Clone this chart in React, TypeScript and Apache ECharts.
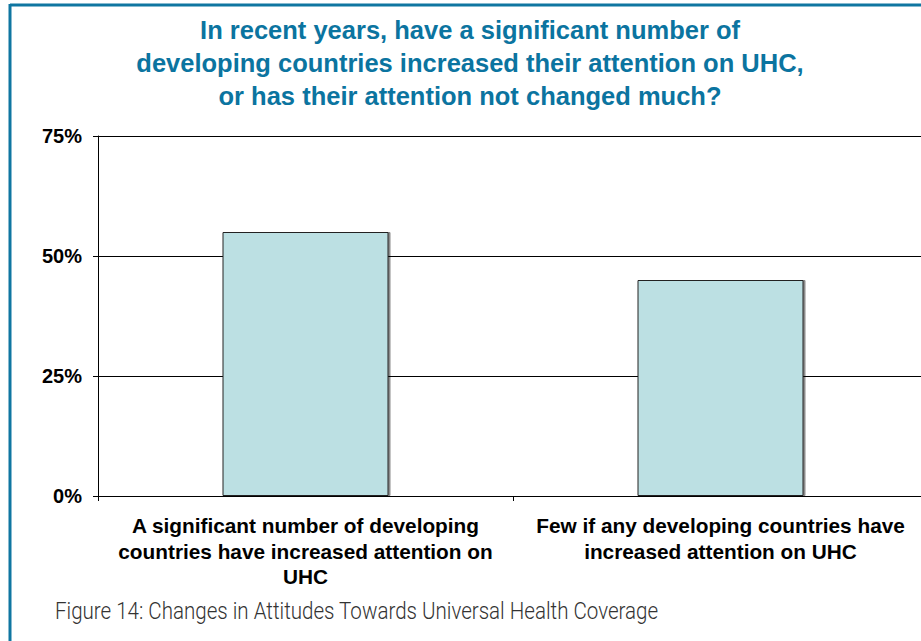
import React, { useEffect, useRef } from "react";
import * as echarts from "echarts";

const categories = [
  "A significant number of developing\ncountries have increased attention on\nUHC",
  "Few if any developing countries have\nincreased attention on UHC",
];
const values = [55, 45];
const yTicks = { min: 0, max: 75, interval: 25 };
const titleLines = [
  "In recent years, have a significant number of",
  "developing countries increased their attention on UHC,",
  "or has their attention not changed much?",
];
const caption = "Figure 14: Changes in Attitudes Towards Universal Health Coverage";

export default function App() {
  const ref = useRef<HTMLDivElement>(null);
  useEffect(() => {
    if (!ref.current) return;
    const chart = echarts.init(ref.current, null, { renderer: "svg" });
    const teal = "#0F76A1";
    chart.setOption({
      animation: false,
      backgroundColor: "#ffffff",
      title: {
        text: titleLines.join("\n"),
        left: 465,
        textAlign: "center",
        top: 8,
        textStyle: {
          color: "#0B74A0",
          fontFamily: "Liberation Sans, Arial, sans-serif",
          fontWeight: "bold",
          fontSize: 25.5,
          lineHeight: 33,
        },
      },
      graphic: [
        { type: "line", shape: { x1: 10, y1: 5, x2: 928, y2: 5 }, style: { stroke: teal, lineWidth: 3 } },
        { type: "line", shape: { x1: 10, y1: 4, x2: 10, y2: 641 }, style: { stroke: teal, lineWidth: 3 } },
        {
          type: "text",
          x: 55,
          y: 600,
          scaleX: 0.894,
          style: {
            text: caption,
            fill: "#333333",
            font: "300 23px Roboto, sans-serif",
          },
        },
      ],
      grid: { left: 98, right: 0, top: 136, bottom: 145, containLabel: false },
      xAxis: {
        type: "category",
        data: categories,
        axisLine: { show: true, lineStyle: { color: "#000", width: 1 } },
        axisTick: { show: true, length: 5, alignWithLabel: false, lineStyle: { color: "#000" } },
        axisLabel: {
          color: "#000",
          fontFamily: "Liberation Sans, Arial, sans-serif",
          fontWeight: "bold",
          fontSize: 20.8,
          lineHeight: 25.5,
          margin: 17,
          interval: 0,
        },
      },
      yAxis: {
        type: "value",
        min: yTicks.min,
        max: yTicks.max,
        interval: yTicks.interval,
        axisLine: { show: true, lineStyle: { color: "#000", width: 1 } },
        axisTick: { show: true, length: 5, lineStyle: { color: "#000" } },
        splitLine: { show: true, lineStyle: { color: "#000", width: 1 } },
        axisLabel: {
          formatter: "{value}%",
          color: "#000",
          fontFamily: "Liberation Sans, Arial, sans-serif",
          fontWeight: "bold",
          fontSize: 20,
          margin: 16,
        },
      },
      series: [
        {
          type: "bar",
          data: values,
          barWidth: "40%",
          itemStyle: {
            color: "#BCE0E3",
            borderColor: "#222",
            borderWidth: 1,
            shadowColor: "rgba(0,0,0,0.45)",
            shadowOffsetX: 2,
            shadowOffsetY: 0,
            shadowBlur: 0,
          },
        },
      ],
    });
    return () => chart.dispose();
  }, []);
  return (
    <div
      ref={ref}
      style={{ position: "fixed", left: 0, top: 0, width: 928, height: 641 }}
    />
  );
}
